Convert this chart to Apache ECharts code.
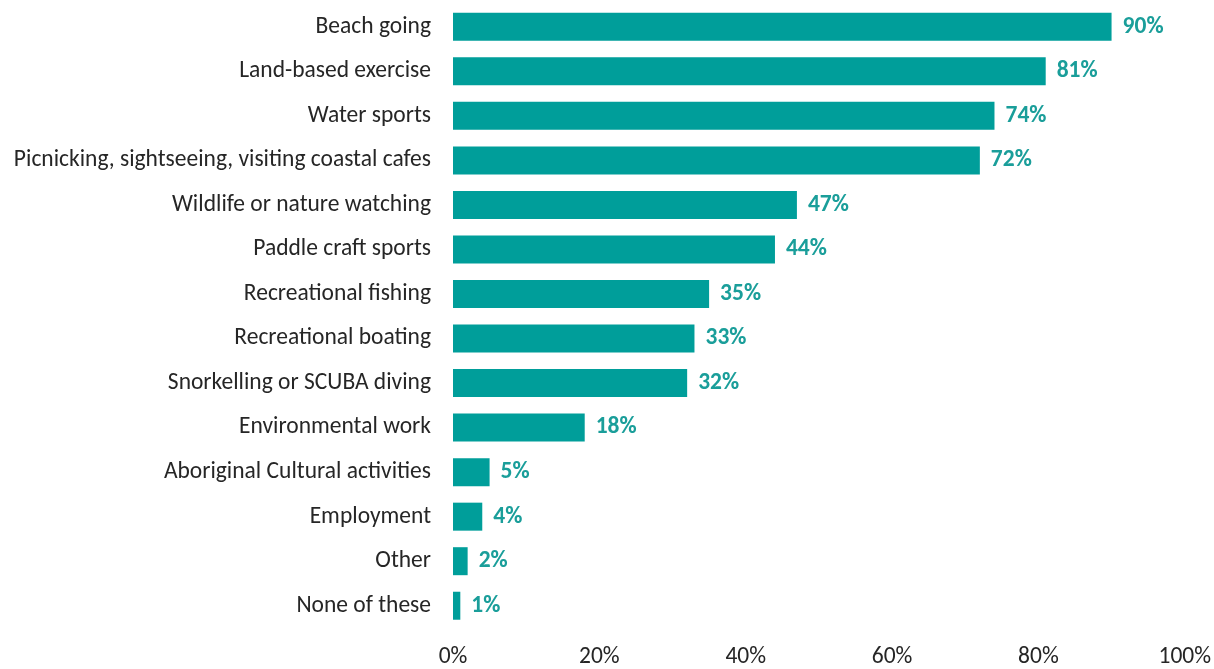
<!DOCTYPE html>
<html>
<head>
<meta charset="utf-8">
<script src="https://cdn.jsdelivr.net/npm/echarts@6/dist/echarts.min.js"></script>
<style>
  html, body { margin: 0; padding: 0; background: #fff; }
  #chart { width: 1214px; height: 669px; }
</style>
</head>
<body>
<div id="chart"></div>
<script>
// Activities, listed top to bottom
const activities = [
  'Beach going',
  'Land-based exercise',
  'Water sports',
  'Picnicking, sightseeing, visiting coastal cafes',
  'Wildlife or nature watching',
  'Paddle craft sports',
  'Recreational fishing',
  'Recreational boating',
  'Snorkelling or SCUBA diving',
  'Environmental work',
  'Aboriginal Cultural activities',
  'Employment',
  'Other',
  'None of these'
];
// Share of respondents (%)
const shares = [90, 81, 74, 72, 47, 44, 35, 33, 32, 18, 5, 4, 2, 1];
const axisTicks = [0, 20, 40, 60, 80, 100];

const chart = echarts.init(document.getElementById('chart'));
const fontFamily = 'Carlito, Calibri, "Open Sans", "Noto Sans", sans-serif';
const fontSize = 23.5;

chart.setOption({
  animation: false,
  textStyle: { fontFamily },
  grid: { left: 453, right: 29, top: 4.5, bottom: 38, containLabel: false },
  xAxis: {
    type: 'value',
    min: axisTicks[0],
    max: axisTicks[axisTicks.length - 1],
    interval: axisTicks[1] - axisTicks[0],
    axisLine: { show: false },
    axisTick: { show: false },
    splitLine: { show: false },
    axisLabel: {
      formatter: v => v + '%',
      color: '#262626',
      fontSize,
      fontFamily,
      margin: 17
    }
  },
  yAxis: {
    type: 'category',
    inverse: true,
    data: activities,
    axisLine: { show: false },
    axisTick: { show: false },
    axisLabel: {
      color: '#262626',
      fontSize,
      fontFamily,
      margin: 22,
      padding: [3, 0, 0, 0]
    }
  },
  series: [{
    type: 'bar',
    data: shares,
    barWidth: 28,
    itemStyle: { color: '#009E9A' },
    label: {
      show: true,
      position: 'right',
      distance: 11,
      padding: [3, 0, 0, 0],
      formatter: p => p.value + '%',
      color: '#1A9E9A',
      fontWeight: 'bold',
      fontSize,
      fontFamily
    }
  }]
});
</script>
</body>
</html>
